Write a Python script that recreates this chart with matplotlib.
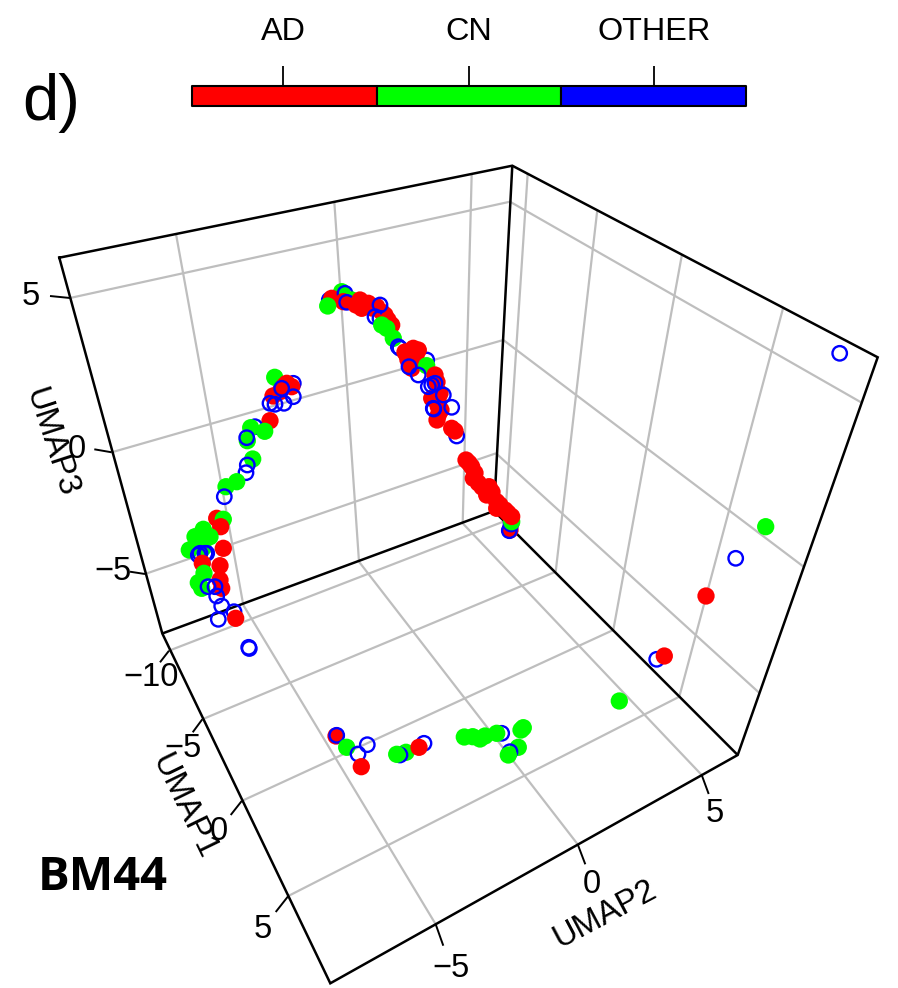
import matplotlib
matplotlib.use("Agg")
import matplotlib.pyplot as plt
import numpy as np

plt.rcParams['font.family'] = ['Liberation Sans', 'DejaVu Sans']

# Everything below in picture pixels (x right, y down).
categories = ["AD", "CN", "OTHER"]
class_colors = ["#FF0000", "#00FF00", "#0000FF"]
A, C, O = 0, 1, 2

# Left arc
left_x = [293.3, 274.7, 286.7, 291.7, 284.0, 280.0, 273.0, 293.3, 284.0, 275.0, 281.7, 270.0,
          270.0, 255.0, 264.7, 250.7, 247.3, 246.7, 252.7, 247.3, 246.0, 236.7, 226.0, 224.3,
          216.7, 223.3, 220.7, 223.3, 220.0,
          202.3, 203.3, 195.0, 210.0, 201.7, 189.3, 203.0, 200.0, 205.0, 198.3, 206.7,
          202.3, 204.0, 198.3, 201.7, 220.0, 221.7, 208.0, 215.0,
          216.7, 221.7, 234.0, 218.3, 235.7, 248.7, 249.3]
left_y = [383.3, 377.3, 383.3, 386.7, 386.0, 391.7, 396.0, 396.7, 403.3, 404.3, 388.3, 403.3,
          420.7, 426.7, 431.3, 427.7, 440.7, 437.7, 459.0, 465.0, 472.7, 481.7, 486.7, 496.7,
          518.3, 519.3, 526.7, 548.3, 565.7,
          538.0, 529.3, 536.7, 536.7, 540.0, 550.0, 548.0, 553.3, 553.3, 555.0, 553.3,
          563.3, 573.3, 582.7, 588.3, 580.0, 588.3, 586.7, 586.7,
          596.0, 606.0, 611.7, 619.3, 618.3, 647.3, 648.5]
left_class = [O, C, A, A, A, A, A, O, O, O, O, O,
              A, O, C, C, C, O, C, O, O, C, C, O,
              A, C, A, A, A,
              O, C, C, C, C, C, C, O, O, O, O,
              A, C, C, C, A, A, O, O,
              O, O, O, O, A, O, O]

# Right arc
right_x = [341.7, 329.3, 331.7, 345.0, 351.7, 343.3, 346.7, 327.7,
           381.7, 360.0, 356.0, 361.7, 365.0, 368.3, 372.0, 376.7, 385.0, 380.0, 375.0, 380.0,
           391.7, 388.0, 381.7, 386.7, 393.3, 398.3, 400.0,
           426.7, 413.3, 418.3, 414.0, 406.7, 405.0, 408.0, 416.0, 410.0, 411.7, 409.0, 426.7, 418.3,
           435.0, 437.0, 440.0, 431.7, 438.0, 438.3, 441.0, 437.0, 438.3, 435.0, 428.3, 431.7, 443.3, 451.7, 433.3, 433.8,
           456.7, 451.7, 455.0,
           466.0, 469.0, 471.7, 473.3, 475.0, 478.3, 482.0, 489.0, 486.7, 492.0, 496.7, 500.0, 496.7,
           505.0, 510.0, 509.3, 511.0, 511.7, 508.0, 511.7]
right_y = [291.7, 300.0, 298.3, 293.3, 300.0, 301.7, 302.3, 306.0,
           312.0, 300.0, 305.0, 308.3, 306.0, 303.3, 308.0, 306.7, 315.0, 305.0, 316.7, 318.3,
           325.0, 320.0, 325.0, 328.3, 338.3, 346.7, 348.3,
           360.0, 348.3, 350.0, 352.0, 355.0, 352.0, 360.0, 356.0, 361.7, 368.3, 366.7, 365.7, 375.0,
           375.0, 382.0, 393.3, 398.3, 400.0, 406.7, 410.0, 420.0, 415.0, 383.3, 386.7, 385.0, 395.0, 407.3, 408.3, 409.0,
           436.0, 428.3, 431.0,
           460.0, 463.0, 466.7, 478.3, 473.0, 483.0, 487.0, 486.7, 495.0, 492.0, 501.7, 505.0, 508.3,
           510.0, 530.0, 530.7, 524.0, 521.7, 513.0, 516.5]
right_class = [C, O, A, O, C, A, O, C,
               A, A, A, A, A, A, A, A, A, O, O, O,
               A, A, C, C, C, O, O,
               O, A, A, A, A, A, A, A, A, A, O, C, O,
               A, A, A, A, A, A, A, A, A, O, O, O, O, O, O, O,
               O, A, A,
               A, A, A, A, A, A, A, A, A, A, A, A, A,
               A, A, O, O, C, A, A]

# Floor cluster and far outliers
floor_x = [336.0, 336.7, 346.7, 367.3, 358.0, 361.3,
           406.0, 400.0, 396.7, 424.0, 419.0,
           501.7, 464.3, 472.7, 480.0, 485.0, 496.7,
           523.3, 521.0, 518.3, 510.0, 508.3,
           619.3, 656.7, 664.3, 706.0, 735.7, 765.7, 839.7]
floor_y = [736.0, 735.3, 747.3, 744.7, 754.0, 766.7,
           752.3, 755.0, 754.3, 743.3, 747.3,
           733.3, 737.0, 736.7, 739.0, 736.0, 733.3,
           727.7, 730.0, 747.3, 751.7, 755.0,
           701.0, 659.3, 656.0, 596.0, 558.3, 526.7, 353.3]
floor_class = [A, O, C, O, O, A,
               C, O, C, O, A,
               O, C, C, C, C, C,
               C, C, C, O, C,
               C, O, A, A, O, C, O]

# Box edges
box_outer_x = [59.3, 512.3, 877.7, 737.7, 330.3, 162.3, 59.3]
box_outer_y = [257.7, 165.7, 357.3, 755.0, 983.3, 633.5, 257.7]
box_back_x = 494.0
box_back_y = 511.0

# Grid: UMAP3 levels
z_labels = ["5", "0", "\u22125"]
z_left_x = [70.0, 111.7, 145.0]
z_left_y = [298.0, 452.3, 574.0]
z_back_x = [510.0, 503.3, 496.0]
z_back_y = [201.7, 340.0, 453.3]
z_right_x = [861.0, 804.0, 759.4]
z_right_y = [402.3, 567.0, 693.0]
z_tick_x = [50.0, 94.3, 130.0]
z_tick_y = [296.0, 449.3, 571.7]
z_text_x = [30.7, 76.7, 113.0]
z_text_y = [296.5, 449.5, 571.5]

# Grid: UMAP1 levels
x_labels = ["\u221210", "\u22125", "0", "5"]
x_front_x = [169.0, 202.3, 241.7, 288.3]
x_front_y = [650.7, 719.3, 801.0, 896.0]
x_edge_x = [505.0, 555.7, 613.3, 679.3]
x_edge_y = [521.0, 571.7, 630.0, 696.7]
x_top_x = [527.7, 597.3, 682.0, 783.3]
x_top_y = [173.3, 210.0, 254.3, 307.3]
x_tick_x = [160.0, 192.7, 230.7, 275.7]
x_tick_y = [662.3, 732.3, 815.0, 912.0]
x_text_x = [150.7, 183.0, 219.0, 262.7]
x_text_y = [677.5, 748.5, 831.5, 929.5]

# Grid: UMAP2 levels
y_labels = ["\u22125", "0", "5"]
y_front_x = [435.7, 577.7, 701.7]
y_front_y = [924.3, 844.3, 775.0]
y_edge_x = [243.3, 359.0, 462.7]
y_edge_y = [605.0, 561.7, 523.3]
y_top_x = [176.0, 334.3, 471.7]
y_top_y = [234.0, 201.7, 173.3]
y_tick_x = [443.3, 585.3, 708.7]
y_tick_y = [945.7, 864.3, 794.0]
y_text_x = [451.0, 591.7, 715.0]
y_text_y = [968.5, 884.5, 813.5]

# Legend bar
bar_edges = [192.0, 377.0, 561.0, 746.0]
bar_ticks = [283.0, 469.0, 654.0]

GREY = "#BEBEBE"
BLACK = "#000000"
FS = 23.5

fig = plt.figure(figsize=(8.98, 9.88), dpi=100)
ax = fig.add_axes([0, 0, 1, 1])
ax.set_xlim(0, 898)
ax.set_ylim(988, 0)
ax.axis("off")


def seg(x0, y0, x1, y1, color, lw, z=1):
    ax.plot([x0, x1], [y0, y1], color=color, lw=lw, zorder=z, solid_capstyle="butt")


# grey grid
for i in range(3):
    seg(z_left_x[i], z_left_y[i], z_back_x[i], z_back_y[i], GREY, 1.6)
    seg(z_back_x[i], z_back_y[i], z_right_x[i], z_right_y[i], GREY, 1.6)
for i in range(4):
    seg(x_front_x[i], x_front_y[i], x_edge_x[i], x_edge_y[i], GREY, 1.6)
    seg(x_edge_x[i], x_edge_y[i], x_top_x[i], x_top_y[i], GREY, 1.6)
for i in range(3):
    seg(y_front_x[i], y_front_y[i], y_edge_x[i], y_edge_y[i], GREY, 1.6)
    seg(y_edge_x[i], y_edge_y[i], y_top_x[i], y_top_y[i], GREY, 1.6)

# black box
ax.plot(box_outer_x, box_outer_y, color=BLACK, lw=1.8, zorder=2, solid_joinstyle="miter")
for cx, cy in [(box_outer_x[1], box_outer_y[1]), (box_outer_x[3], box_outer_y[3]),
               (box_outer_x[5], box_outer_y[5])]:
    seg(box_back_x, box_back_y, cx, cy, BLACK, 1.8, 2)

# ticks
for fx, fy, tx, ty in [(z_left_x, z_left_y, z_tick_x, z_tick_y),
                       (x_front_x, x_front_y, x_tick_x, x_tick_y),
                       (y_front_x, y_front_y, y_tick_x, y_tick_y)]:
    for a, b, c, d in zip(fx, fy, tx, ty):
        seg(a, b, c, d, BLACK, 1.4, 2)

# tick labels
for xs, ys, labs in [(z_text_x, z_text_y, z_labels), (x_text_x, x_text_y, x_labels),
                     (y_text_x, y_text_y, y_labels)]:
    for a, b, s in zip(xs, ys, labs):
        ax.text(a, b, s, fontsize=FS, ha="center", va="center", color=BLACK, zorder=5)

# axis titles
ax.text(50.5, 443.0, "UMAP3", fontsize=FS, rotation=-72, ha="center", va="center",
        rotation_mode="anchor", zorder=5)
ax.text(183.3, 806.7, "UMAP1", fontsize=FS, rotation=-64, ha="center", va="center",
        rotation_mode="anchor", zorder=5)
ax.text(605.5, 914.0, "UMAP2", fontsize=FS, rotation=28, ha="center", va="center",
        rotation_mode="anchor", zorder=5)

# points, in drawing order
px = np.array(left_x + right_x + floor_x)
py = np.array(left_y + right_y + floor_y)
pc = np.array(left_class + right_class + floor_class)
rgba = matplotlib.colors.to_rgba_array(class_colors)
face = rgba[pc].copy()
edge = rgba[pc].copy()
face[pc == O] = (1, 1, 1, 0)
sizes = np.where(pc == O, 108.0, 155.0)
lws = np.where(pc == O, 1.7, 0.0)
ax.scatter(px, py, s=sizes, facecolors=face, edgecolors=edge, linewidths=lws, zorder=3)

# legend bar
bar_top, bar_bottom = 86.0, 106.0
for i, col in enumerate(class_colors):
    ax.fill_between([bar_edges[i], bar_edges[i + 1]], bar_top, bar_bottom, facecolor=col,
                    edgecolor=BLACK, linewidth=1.5, zorder=3)
for tx, name in zip(bar_ticks, categories):
    seg(tx, 66, tx, bar_top, BLACK, 1.3, 3)
    ax.text(tx, 32, name, fontsize=23.3, ha="center", va="center", color=BLACK)

# panel letter and dataset name
ax.text(22, 120, "d)", fontsize=47, ha="left", va="baseline", color=BLACK)
ax.text(38, 890, "BM44", fontsize=34, fontweight="bold", family="Open Sans",
        ha="left", va="baseline", color=BLACK)

fig.savefig("out.png", dpi=100)
